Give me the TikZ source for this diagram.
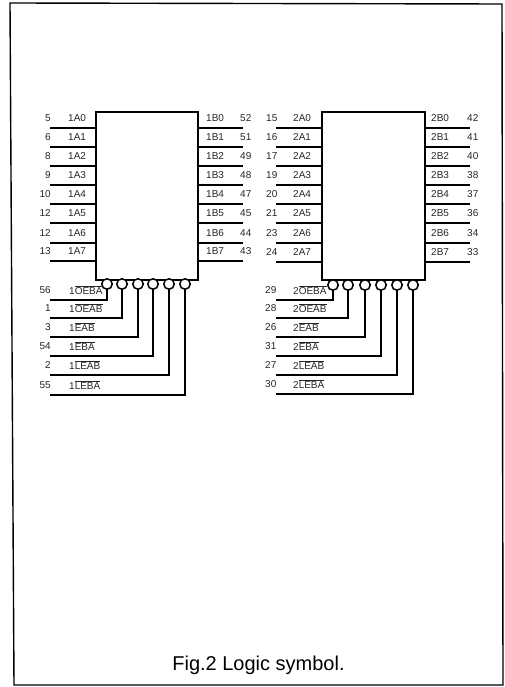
\documentclass[tikz,border=0pt]{standalone}
\usepackage{fontspec}
\setmainfont{Liberation Sans}
\tikzset{
  x=1pt,y=-1pt,
  chip/.style={draw=black,line width=2pt,fill=white},
  lead/.style={draw=black,line width=1.1pt},
  bubble/.style={circle,draw=black,line width=1.5pt,fill=white,minimum size=10.5pt,inner sep=0pt},
  lbl/.style={font=\fontsize{10}{12}\selectfont,inner sep=0pt,text=black!85},
  pinl/.style={lbl,anchor=east},
  pinr/.style={lbl,anchor=west},
  nm/.style={lbl,anchor=west},
  frame/.style={draw=black,line width=1.4pt}
}
\newcommand{\ov}[1]{$\overline{\mbox{#1}}$}
\begin{document}
\begin{tikzpicture}
\useasboundingbox (0,0) rectangle (504,687);
\fill[white] (0,0) rectangle (504,687);
\draw[frame] (10,3) -- (502,4) -- (503,685) -- (14,685) -- cycle;
\node[font=\fontsize{20}{24}\selectfont] (cap) at (258.5,665) {Fig.2 Logic symbol.};

% unit 1
\node[chip,minimum width=102pt,minimum height=168pt,anchor=north west,inner sep=0pt] (c1) at (95,111) {};
\foreach \n/\y/\p/\t [count=\i] in {0/128/5/52,1/147/6/51,2/166/8/49,3/185/9/48,4/204/10/47,5/223/12/45,6/243/12/44,7/261/13/43}{
  \coordinate (a\i) at (50,\y);
  \coordinate (ae\i) at (95,\y);
  \coordinate (b\i) at (243,\y);
  \coordinate (be\i) at (197,\y);
  \draw[lead] (a\i) -- (ae\i);
  \draw[lead] (be\i) -- (b\i);
  \node[pinl] (pa\i) at (51,\y-9.5) {\p};
  \node[nm] (na\i) at (68,\y-10) {1A\n};
  \node[nm] (nb\i) at (206,\y-9.5) {1B\n};
  \node[pinr] (pb\i) at (240,\y-10) {\t};
}
\foreach \x/\y/\p/\t [count=\i] in {
 107/300/56/{1\ov{OEBA}},
 122/318/1/{1\ov{OEAB}},
 138/337/3/{1\ov{EAB}},
 153/356/54/{1\ov{EBA}},
 169/375/2/{1\ov{LEAB}},
 185/395/55/{1\ov{LEBA}}}{
  \coordinate (cl\i) at (50,\y);
  \node[bubble] (bu\i) at (\x,284) {};
  \draw[lead] (bu\i.south) |- (cl\i);
  \node[pinl] (pc\i) at (51,\y-10) {\p};
  \node[nm] (nc\i) at (69,\y-10) {\t};
}

% unit 2
\node[chip,minimum width=103pt,minimum height=168pt,anchor=north west,inner sep=0pt] (c2) at (321,111) {};
\foreach \n/\y/\p/\t [count=\i] in {0/128/15/42,1/147/16/41,2/166/17/40,3/185/19/38,4/204/20/37,5/223/21/36,6/243/23/34,7/262/24/33}{
  \coordinate (d\i) at (276,\y);
  \coordinate (de\i) at (321,\y);
  \coordinate (e\i) at (470,\y);
  \coordinate (ee\i) at (424,\y);
  \draw[lead] (d\i) -- (de\i);
  \draw[lead] (ee\i) -- (e\i);
  \node[pinr] (pd\i) at (266,\y-10) {\p};
  \node[nm] (nd\i) at (293,\y-10) {2A\n};
  \node[nm] (ne\i) at (431,\y-9.5) {2B\n};
  \node[pinr] (pe\i) at (467,\y-10) {\t};
}
\foreach \x/\y/\p/\t [count=\i] in {
 333/300/29/{2\ov{OEBA}},
 348/318/28/{2\ov{OEAB}},
 365/337/26/{2\ov{EAB}},
 381/356/31/{2\ov{EBA}},
 397/375/27/{2\ov{LEAB}},
 413/394/30/{2\ov{LEBA}}}{
  \coordinate (dl\i) at (276,\y);
  \node[bubble] (bv\i) at (\x,285) {};
  \draw[lead] (bv\i.south) |- (dl\i);
  \node[pinr] (pf\i) at (265,\y-10) {\p};
  \node[nm] (nf\i) at (293,\y-10) {\t};
}
\end{tikzpicture}
\end{document}
